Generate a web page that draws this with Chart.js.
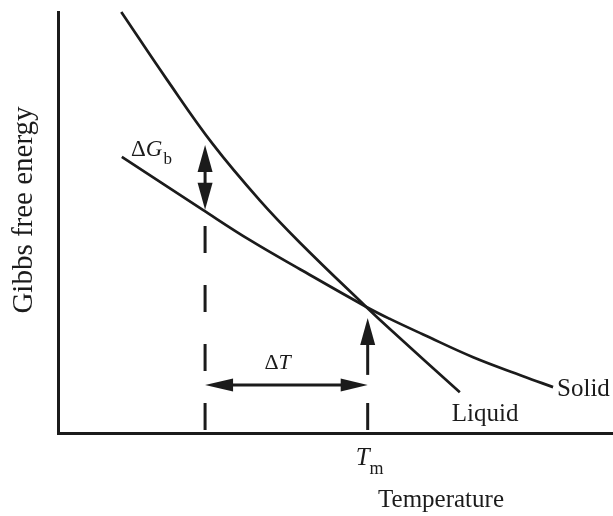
<!DOCTYPE html>
<html>
<head>
<meta charset="utf-8">
<script src="https://cdn.jsdelivr.net/npm/chart.js@4.4.1/dist/chart.umd.min.js"></script>
<style>
  html, body { margin: 0; padding: 0; background: #fff; }
  canvas { display: block; }
</style>
</head>
<body>
<canvas id="chart" width="613" height="516"></canvas>
<script>
// Gibbs free energy vs temperature (arbitrary units, axes 0..100)
const liquidT = [11.4, 19.6, 27.9, 36.4, 43.6, 55.5, 59.8, 72.4];
const liquidG = [100.0, 84.0, 68.6, 55.2, 45.2, 30.0, 24.7, 9.7];
const solidT = [11.5, 26.1, 34.6, 43.6, 55.5, 59.8, 65.8, 74.8, 83.8, 89.2];
const solidG = [65.6, 53.0, 45.8, 38.9, 30.0, 27.1, 23.4, 18.0, 13.5, 10.9];

// marker temperatures: undercooled T, melting point Tm
const markT = [26.5, 55.8];
// ΔGb arrow ends (top, bottom) and top of the dashed line below it
const gapG = [68.4, 53.0, 49.6];
// Tm arrow: tip, shaft end; ΔT arrow level
const tmArrowG = [27.3, 13.8];
const deltaTG = 11.4;

const ink = '#1b1b1b';
const serif = '"Liberation Serif", "Times New Roman", serif';

const toXY = (xs, ys) => xs.map((x, i) => ({ x: x, y: ys[i] }));

function arrowHead(ctx, x, y, dx, dy, len, half) {
  // tip at (x,y), pointing along (dx,dy)
  const bx = x - dx * len, by = y - dy * len;
  ctx.beginPath();
  ctx.moveTo(x, y);
  ctx.lineTo(bx - dy * half, by + dx * half);
  ctx.lineTo(bx + dy * half, by - dx * half);
  ctx.closePath();
  ctx.fill();
}

const figure = {
  id: 'figure',
  afterDatasetsDraw(chart) {
    const ctx = chart.ctx;
    const xs = chart.scales.x, ys = chart.scales.y;
    const bottom = chart.chartArea.bottom;
    const xU = xs.getPixelForValue(markT[0]);
    const xM = xs.getPixelForValue(markT[1]);

    ctx.save();
    ctx.strokeStyle = ink;
    ctx.fillStyle = ink;
    ctx.lineWidth = 3;
    ctx.lineCap = 'butt';

    // dashed verticals
    ctx.setLineDash([27, 32]);
    ctx.beginPath();
    ctx.moveTo(xU, bottom - 3);
    ctx.lineTo(xU, ys.getPixelForValue(gapG[2]));
    ctx.stroke();
    ctx.beginPath();
    ctx.moveTo(xM, bottom - 3);
    ctx.lineTo(xM, bottom - 30);
    ctx.stroke();
    ctx.setLineDash([]);

    // ΔGb double arrow
    const yTop = ys.getPixelForValue(gapG[0]);
    const yBot = ys.getPixelForValue(gapG[1]);
    ctx.beginPath();
    ctx.moveTo(xU, yTop + 20);
    ctx.lineTo(xU, yBot - 20);
    ctx.stroke();
    arrowHead(ctx, xU, yTop, 0, -1, 27, 7.5);
    arrowHead(ctx, xU, yBot, 0, 1, 27, 7.5);

    // Tm up arrow
    const yTip = ys.getPixelForValue(tmArrowG[0]);
    const yEnd = ys.getPixelForValue(tmArrowG[1]);
    ctx.beginPath();
    ctx.moveTo(xM, yEnd);
    ctx.lineTo(xM, yTip + 20);
    ctx.stroke();
    arrowHead(ctx, xM, yTip, 0, -1, 27, 7.5);

    // ΔT double arrow
    const yT = ys.getPixelForValue(deltaTG);
    ctx.beginPath();
    ctx.moveTo(xU + 20, yT);
    ctx.lineTo(xM - 20, yT);
    ctx.stroke();
    arrowHead(ctx, xU, yT, -1, 0, 28, 6.5);
    arrowHead(ctx, xM, yT, 1, 0, 27, 6.5);

    // text
    ctx.textBaseline = 'alphabetic';
    ctx.textAlign = 'left';

    // ΔGb
    ctx.font = '23px ' + serif;
    ctx.fillText('Δ', 131, 156);
    const dw = ctx.measureText('Δ').width;
    ctx.font = 'italic 23px ' + serif;
    ctx.fillText('G', 131 + dw, 156);
    const gw = ctx.measureText('G').width;
    ctx.font = '17px ' + serif;
    ctx.fillText('b', 131 + dw + gw + 1, 164);

    // ΔT
    ctx.font = '22px ' + serif;
    const midT = (xU + xM) / 2 - 22;
    ctx.fillText('Δ', midT, 369);
    const dw2 = ctx.measureText('Δ').width;
    ctx.font = 'italic 22px ' + serif;
    ctx.fillText('T', midT + dw2, 369);

    // curve names
    const lx = xs.getPixelForValue(liquidT[liquidT.length - 1]);
    const ly = ys.getPixelForValue(liquidG[liquidG.length - 1]);
    const sx = xs.getPixelForValue(solidT[solidT.length - 1]);
    const sy = ys.getPixelForValue(solidG[solidG.length - 1]);
    ctx.font = '25px ' + serif;
    ctx.fillText('Liquid', lx - 8, ly + 29);
    ctx.fillText('Solid', sx + 4, sy + 9);

    // Tm
    ctx.font = 'italic 25px ' + serif;
    ctx.fillText('T', xM - 12, 465);
    const tw = ctx.measureText('T').width;
    ctx.font = '18px ' + serif;
    ctx.fillText('m', xM - 12 + tw, 474);

    // axis titles
    ctx.font = '25px ' + serif;
    ctx.textAlign = 'center';
    ctx.fillText('Temperature', 441, 507);

    ctx.translate(32, 210);
    ctx.rotate(-Math.PI / 2);
    ctx.font = '29px ' + serif;
    ctx.fillText('Gibbs free energy', 0, 0);
    ctx.restore();
  }
};

const curveStyle = {
  borderColor: ink,
  borderWidth: 2.7,
  pointRadius: 0,
  fill: false,
  tension: 0.4,
  clip: false
};

new Chart(document.getElementById('chart'), {
  type: 'line',
  data: {
    datasets: [
      Object.assign({ label: 'Liquid', data: toXY(liquidT, liquidG) }, curveStyle),
      Object.assign({ label: 'Solid', data: toXY(solidT, solidG) }, curveStyle)
    ]
  },
  options: {
    responsive: false,
    animation: false,
    devicePixelRatio: 1,
    layout: { padding: { left: 58, top: 12, right: 0, bottom: 83 } },
    plugins: { legend: { display: false }, tooltip: { enabled: false } },
    scales: {
      x: {
        type: 'linear', min: 0, max: 100,
        ticks: { display: false },
        grid: { display: false, drawTicks: false },
        border: { display: true, color: ink, width: 3 }
      },
      y: {
        type: 'linear', min: 0, max: 100,
        ticks: { display: false },
        grid: { display: false, drawTicks: false },
        border: { display: true, color: ink, width: 3 }
      }
    }
  },
  plugins: [figure]
});
</script>
</body>
</html>
